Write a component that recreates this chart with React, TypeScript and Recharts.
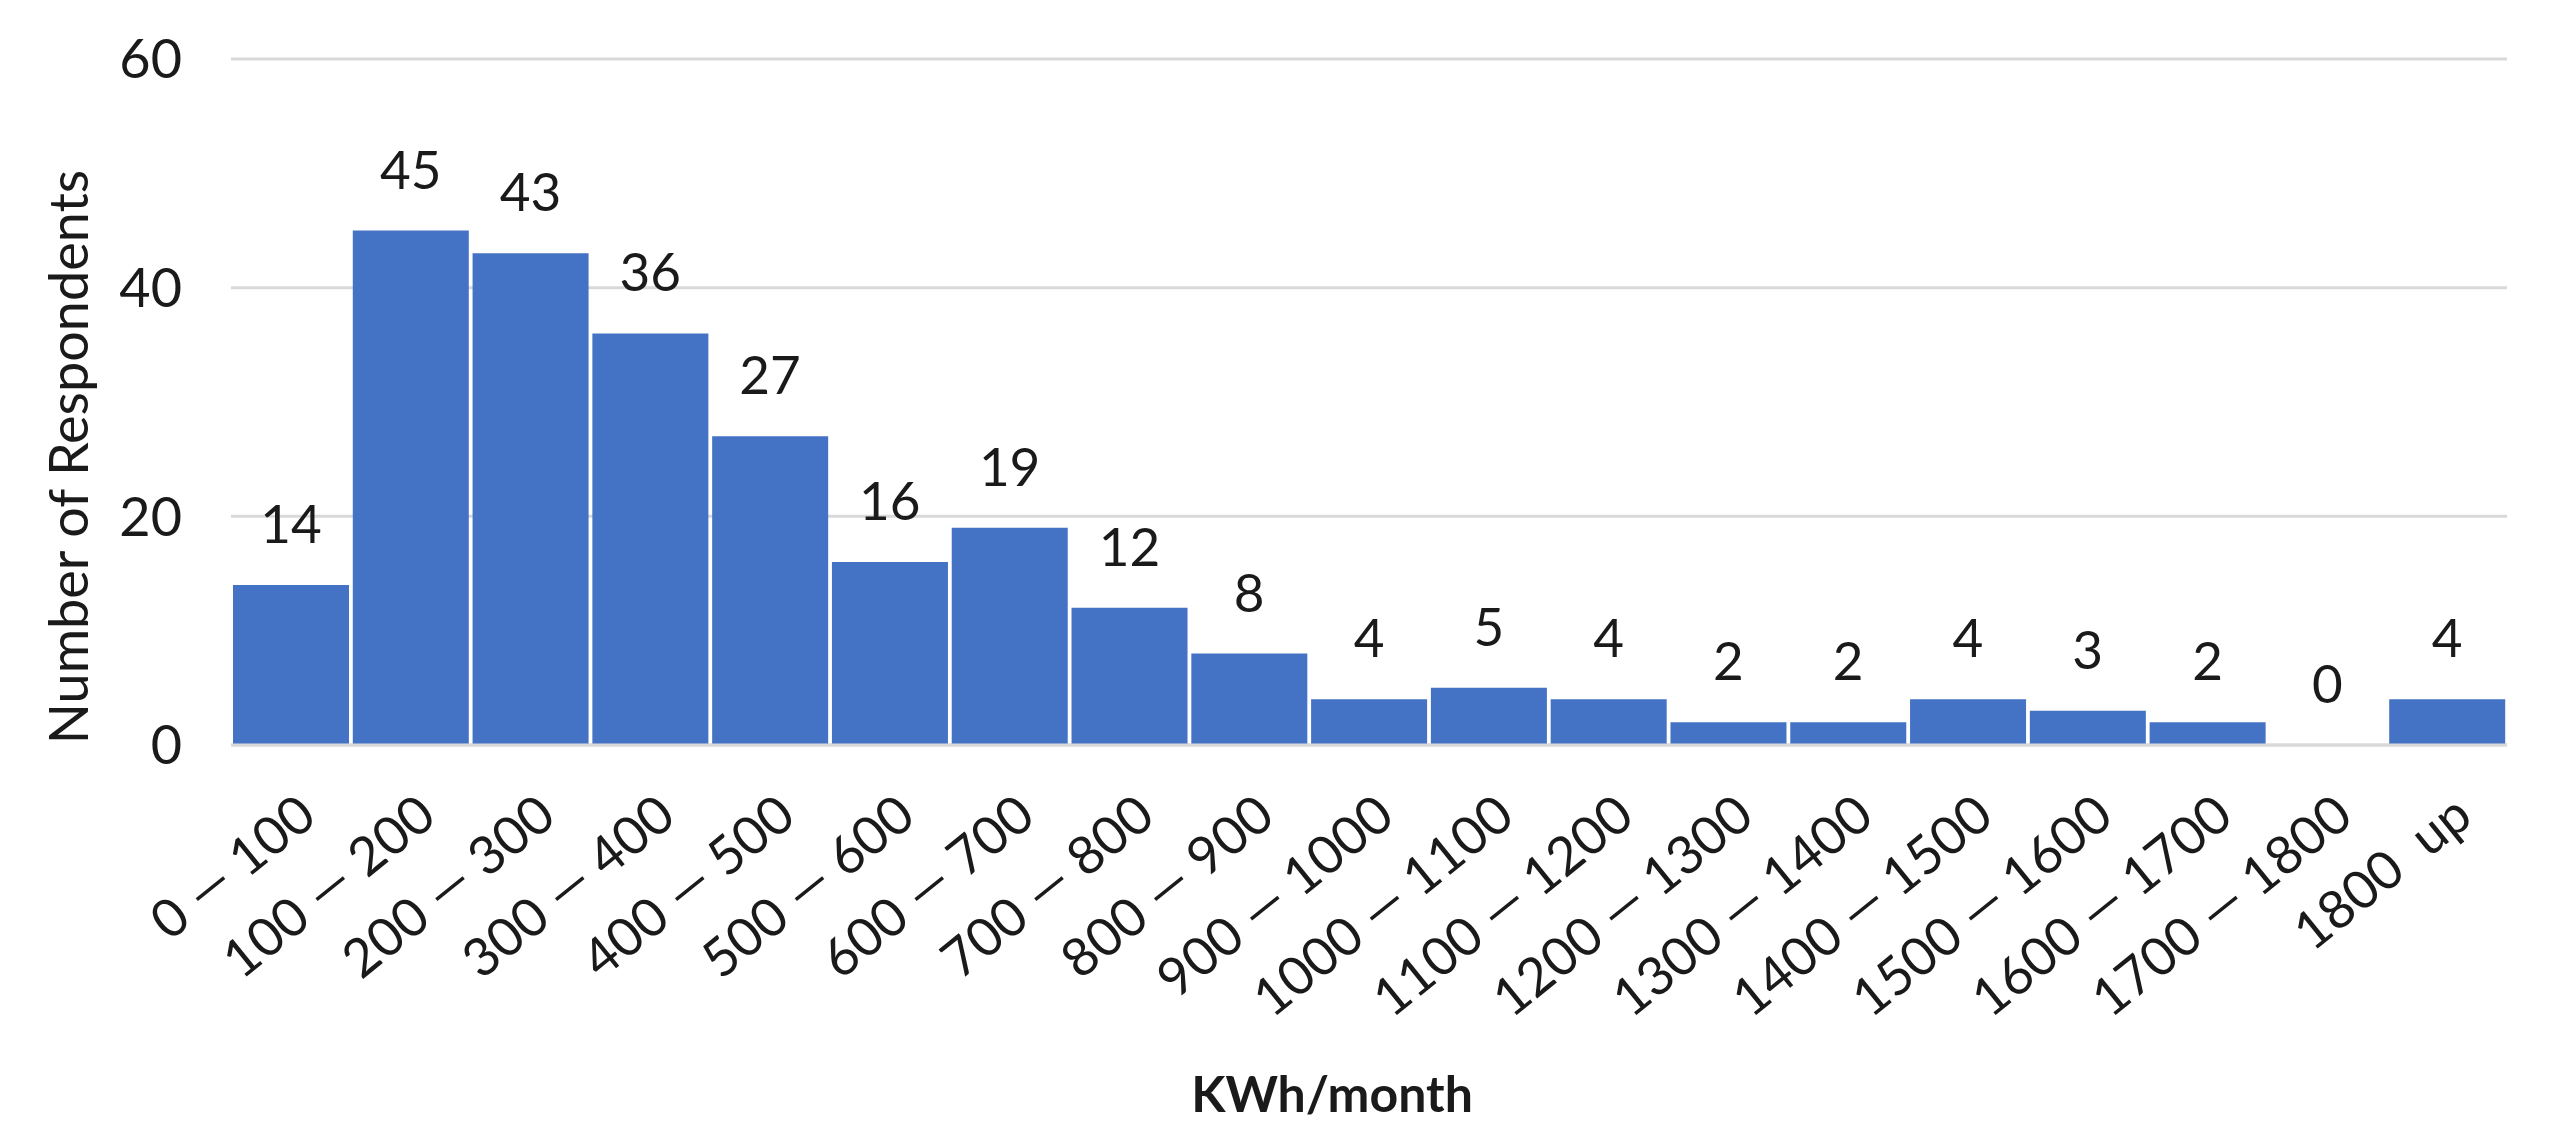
import React from "react";
import { ComposedChart, Bar, Line, XAxis, YAxis, CartesianGrid, LabelList, Label } from "recharts";

const categories = [
  "0 — 100", "100 — 200", "200 — 300", "300 — 400", "400 — 500", "500 — 600",
  "600 — 700", "700 — 800", "800 — 900", "900 — 1000", "1000 — 1100", "1100 — 1200",
  "1200 — 1300", "1300 — 1400", "1400 — 1500", "1500 — 1600", "1600 — 1700",
  "1700 — 1800", "1800  up",
];
const respondents = [14, 45, 43, 36, 27, 16, 19, 12, 8, 4, 5, 4, 2, 2, 4, 3, 2, 0, 4];
const yTicks = [0, 20, 40, 60];

const data = categories.map((c, i) => ({ cat: c, v: respondents[i] }));

const FONT = "Lato, 'Open Sans', sans-serif";
const TEXT = "#1a1a1a";

const XTick = (props: any) => {
  const { x, y, payload } = props;
  const ex = x + 28;
  const ey = y + 76;
  return (
    <text
      x={ex}
      y={ey}
      textAnchor="end"
      transform={`rotate(-39, ${ex}, ${ey})`}
      fontFamily={FONT}
      fontSize={53}
      fill={TEXT}
      style={{ whiteSpace: "pre" }}
    >
      {payload.value}
    </text>
  );
};

const YTitle = (props: any) => {
  const { viewBox } = props;
  const cx = 88;
  const cy = viewBox.y + viewBox.height / 2 + 55;
  return (
    <text
      x={cx}
      y={cy}
      textAnchor="middle"
      transform={`rotate(-90, ${cx}, ${cy})`}
      fontFamily={FONT}
      fontSize={54}
      fill={TEXT}
    >
      Number of Respondents
    </text>
  );
};

const XTitle = (props: any) => {
  const { viewBox } = props;
  return (
    <text
      x={1332}
      y={viewBox.y + 367}
      textAnchor="middle"
      fontFamily={FONT}
      fontSize={50}
      fontWeight="bold"
      fill={TEXT}
    >
      KWh/month
    </text>
  );
};

export default function App() {
  return (
    <div style={{ position: "absolute", left: 0, top: 0, width: 2549, height: 1148, background: "#fff" }}>
      <ComposedChart
        width={2549}
        height={1148}
        data={data}
        margin={{ top: 59, right: 42, left: 0, bottom: 103 }}
        barCategoryGap={2}
      >
        <CartesianGrid vertical={false} horizontal stroke="#d9d9d9" strokeWidth={3} />
        <XAxis
          dataKey="cat"
          interval={0}
          height={300}
          tickLine={false}
          tickSize={0}
          tickMargin={0}
          axisLine={{ stroke: "#d9d9d9", strokeWidth: 3 }}
          tick={<XTick />}
        >
          <Label content={<XTitle />} />
        </XAxis>
        <YAxis
          domain={[0, 60]}
          ticks={yTicks}
          width={231}
          axisLine={false}
          tickLine={false}
          tickSize={0}
          tickMargin={49}
          tick={{ fontFamily: FONT, fontSize: 54, fill: TEXT }}
        >
          <Label content={<YTitle />} />
        </YAxis>
        <Bar dataKey="v" fill="#4472C4" isAnimationActive={false} />
        <Line
          dataKey="v"
          stroke="none"
          dot={false}
          activeDot={false}
          legendType="none"
          isAnimationActive={false}
        >
          <LabelList
            dataKey="v"
            position="top"
            offset={42}
            style={{ fontFamily: FONT, fontSize: 53, fill: TEXT }}
          />
        </Line>
      </ComposedChart>
    </div>
  );
}
